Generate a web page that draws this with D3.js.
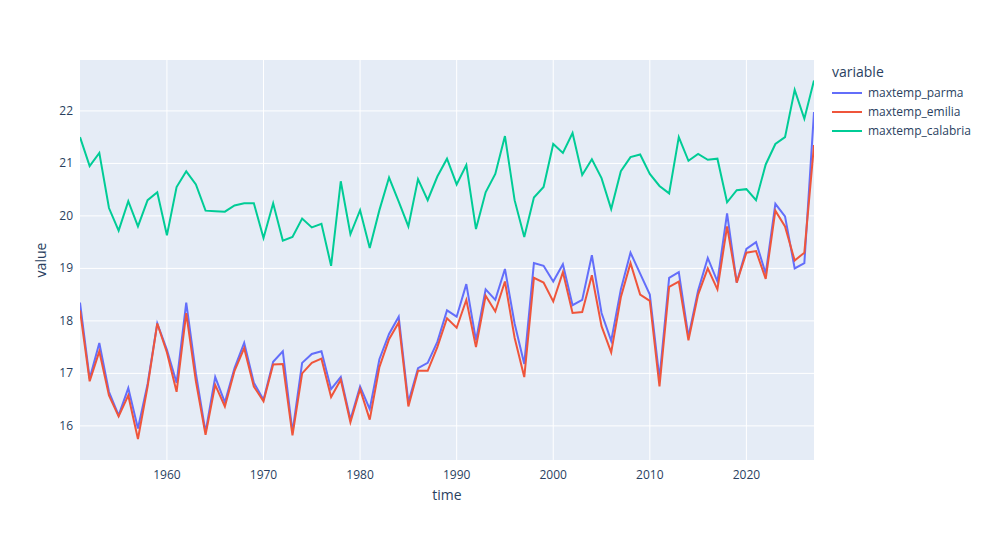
<!DOCTYPE html>
<html><head><meta charset="utf-8">
<script src="https://cdn.jsdelivr.net/npm/d3@7"></script>
<style>body{margin:0;background:#fff}text{font-family:"Open Sans",Verdana,Arial,sans-serif}</style>
</head><body>
<div id="chart"></div>
<script>
const startYear = 1951
const seriesNames = ['maxtemp_parma', 'maxtemp_emilia', 'maxtemp_calabria']
const colors = ['#636efa', '#EF553B', '#00cc96']
const parma = [18.35,16.9,17.58,16.65,16.2,16.72,15.95,16.8,17.95,17.45,16.82,18.35,17.0,15.88,16.93,16.45,17.1,17.58,16.82,16.5,17.22,17.42,15.88,17.2,17.37,17.42,16.7,16.93,16.12,16.75,16.32,17.27,17.75,18.08,16.45,17.1,17.2,17.6,18.2,18.08,18.7,17.63,18.6,18.4,18.99,17.95,17.18,19.1,19.05,18.75,19.08,18.3,18.4,19.25,18.15,17.62,18.6,19.3,18.9,18.5,16.9,18.82,18.93,17.7,18.58,19.2,18.75,20.05,18.73,19.37,19.5,18.9,20.23,19.99,19.0,19.1,21.98]
const emilia = [18.2,16.85,17.42,16.58,16.18,16.58,15.75,16.75,17.95,17.4,16.65,18.15,16.85,15.83,16.78,16.37,17.05,17.48,16.75,16.47,17.17,17.18,15.82,17.0,17.2,17.28,16.55,16.88,16.07,16.7,16.12,17.12,17.65,17.97,16.37,17.05,17.05,17.5,18.05,17.87,18.4,17.5,18.48,18.18,18.75,17.68,16.93,18.82,18.73,18.37,18.93,18.15,18.17,18.87,17.9,17.4,18.45,19.1,18.5,18.38,16.75,18.65,18.75,17.63,18.5,19.0,18.6,19.8,18.73,19.3,19.33,18.8,20.1,19.8,19.15,19.3,21.35]
const calabria = [21.5,20.95,21.2,20.15,19.72,20.28,19.8,20.3,20.45,19.63,20.55,20.85,20.6,20.1,20.09,20.08,20.2,20.24,20.24,19.58,20.24,19.53,19.6,19.95,19.78,19.85,19.05,20.66,19.65,20.11,19.39,20.11,20.73,20.27,19.8,20.7,20.3,20.75,21.09,20.6,20.97,19.75,20.45,20.8,21.52,20.3,19.6,20.35,20.55,21.37,21.2,21.58,20.78,21.08,20.72,20.13,20.85,21.12,21.17,20.8,20.57,20.43,21.5,21.05,21.18,21.07,21.09,20.26,20.49,20.51,20.3,20.98,21.37,21.5,22.4,21.85,22.58]
const xTicks = [1960, 1970, 1980, 1990, 2000, 2010, 2020]
const yTicks = [16, 17, 18, 19, 20, 21, 22]

const width = 1000, height = 540
const m = {l: 80, r: 186, t: 60, b: 80}
const allSeries = [parma, emilia, calabria]
const years = parma.map((d, i) => startYear + i)

const svg = d3.select('#chart').append('svg').attr('width', width).attr('height', height)
const x = d3.scaleLinear().domain([startYear, startYear + parma.length - 1]).range([m.l, width - m.r])
const y = d3.scaleLinear().domain([15.35, 22.97]).range([height - m.b, m.t])

svg.append('rect').attr('x', m.l).attr('y', m.t)
    .attr('width', width - m.l - m.r).attr('height', height - m.t - m.b).attr('fill', '#e5ecf6')

const g = svg.append('g')
g.selectAll('.gx').data(xTicks).enter().append('line')
    .attr('x1', d => x(d)).attr('x2', d => x(d)).attr('y1', m.t).attr('y2', height - m.b)
    .attr('stroke', '#fff').attr('stroke-width', 1)
g.selectAll('.gy').data(yTicks).enter().append('line')
    .attr('y1', d => y(d)).attr('y2', d => y(d)).attr('x1', m.l).attr('x2', width - m.r)
    .attr('stroke', '#fff').attr('stroke-width', 1)

svg.selectAll('.xt').data(xTicks).enter().append('text')
    .attr('x', d => x(d)).attr('y', height - m.b + 19).attr('text-anchor', 'middle')
    .attr('font-size', 12).attr('fill', '#2a3f5f').text(d => d)
svg.selectAll('.yt').data(yTicks).enter().append('text')
    .attr('x', m.l - 7).attr('y', d => y(d) + 4).attr('text-anchor', 'end')
    .attr('font-size', 12).attr('fill', '#2a3f5f').text(d => d)

svg.append('text').attr('x', (m.l + width - m.r) / 2).attr('y', 500).attr('text-anchor', 'middle')
    .attr('font-size', 14).attr('fill', '#2a3f5f').text('time')
svg.append('text').attr('transform', `translate(46,${(m.t + height - m.b) / 2}) rotate(-90)`)
    .attr('text-anchor', 'middle').attr('font-size', 14).attr('fill', '#2a3f5f').text('value')

const line = d3.line().x((d, i) => x(years[i])).y(d => y(d))
const clip = svg.append('clipPath').attr('id', 'clip').append('rect')
    .attr('x', m.l).attr('y', m.t).attr('width', width - m.l - m.r).attr('height', height - m.t - m.b)
allSeries.forEach((s, i) => {
    svg.append('path').attr('d', line(s)).attr('fill', 'none')
        .attr('stroke', colors[i]).attr('stroke-width', 2).attr('clip-path', 'url(#clip)')
})

// legend
const lg = svg.append('g').attr('transform', 'translate(830,60)')
lg.append('text').attr('x', 2).attr('y', 17).attr('font-size', 14).attr('fill', '#2a3f5f').text('variable')
seriesNames.forEach((n, i) => {
    const yy = 33 + i * 19
    lg.append('line').attr('x1', 2).attr('x2', 32).attr('y1', yy).attr('y2', yy)
        .attr('stroke', colors[i]).attr('stroke-width', 2)
    lg.append('text').attr('x', 38).attr('y', yy + 4).attr('font-size', 12).attr('fill', '#2a3f5f').text(n)
})
</script>
</body></html>
